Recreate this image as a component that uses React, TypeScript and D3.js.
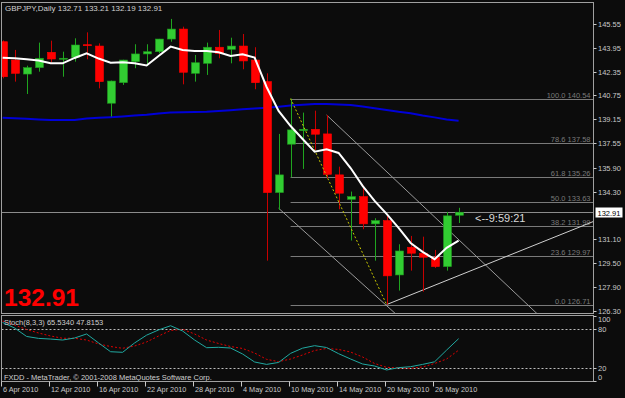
import React from "react";
import * as d3 from "d3";

// ---------- data ----------
const dates = [
  "6 Apr 2010","7 Apr 2010","8 Apr 2010","9 Apr 2010",
  "12 Apr 2010","13 Apr 2010","14 Apr 2010","15 Apr 2010","16 Apr 2010",
  "19 Apr 2010","20 Apr 2010","21 Apr 2010","22 Apr 2010","23 Apr 2010",
  "26 Apr 2010","27 Apr 2010","28 Apr 2010","29 Apr 2010","30 Apr 2010",
  "3 May 2010","4 May 2010","5 May 2010","6 May 2010","7 May 2010",
  "10 May 2010","11 May 2010","12 May 2010","13 May 2010","14 May 2010",
  "17 May 2010","18 May 2010","19 May 2010","20 May 2010","21 May 2010",
  "24 May 2010","25 May 2010","26 May 2010","27 May 2010","28 May 2010",
];
const opens = [144.36,143.13,142.19,142.62,143.65,143.22,143.31,144.16,144.07,140.23,141.61,143.02,143.54,143.69,144.54,145.21,142.24,142.91,143.99,143.85,144.07,143.13,141.68,134.23,137.48,138.39,138.48,138.17,135.42,133.78,133.96,132.13,132.35,128.70,130.56,130.16,129.89,129.26,132.71];
const highs = [144.45,143.81,142.75,144.30,144.43,143.69,144.59,144.99,144.25,141.75,143.15,144.19,144.19,144.55,145.89,145.37,143.47,144.30,145.15,144.63,144.88,143.99,142.24,138.17,140.54,139.60,139.73,139.44,135.97,134.30,134.70,132.51,132.73,130.76,131.32,131.27,130.38,132.93,133.21];
const lows = [141.90,141.68,140.85,142.35,142.95,142.01,143.02,143.18,141.23,139.33,141.46,142.58,142.73,143.58,144.36,141.50,141.68,142.13,143.25,142.91,142.51,141.17,129.66,133.07,135.26,135.82,137.09,135.19,133.11,131.01,131.77,129.66,126.71,127.65,128.99,127.58,129.17,128.99,132.19];
const closes = [142.01,142.24,142.62,143.25,143.20,143.25,144.14,144.12,141.68,141.72,143.13,143.54,143.69,144.54,145.21,142.31,142.95,143.99,143.58,144.07,143.07,141.61,134.23,135.42,138.44,138.48,138.15,135.46,134.19,133.96,132.13,132.35,128.64,130.31,130.16,129.89,129.26,132.67,132.91];
const maFast = [143.29,143.25,143.18,143.10,142.91,142.91,143.27,143.58,143.23,142.95,142.98,142.91,142.76,143.40,144.03,143.81,143.74,143.74,143.65,143.40,143.52,143.29,141.32,139.71,138.70,137.83,136.98,137.14,136.89,135.88,134.68,133.67,132.80,131.86,130.85,130.25,129.76,130.52,131.01];
const maSlow = [139.26,139.22,139.18,139.14,139.11,139.11,139.11,139.21,139.25,139.29,139.34,139.40,139.46,139.54,139.61,139.63,139.64,139.66,139.71,139.76,139.82,139.88,139.93,140.00,140.07,140.13,140.18,140.18,140.15,140.11,140.01,139.89,139.78,139.66,139.56,139.41,139.28,139.14,139.06];
const stochMain = [90.5,82,69,66,65,63.5,66.6,72.8,59,45.5,44.6,59,71,79,85.5,77.4,63.5,51.7,52.3,51.2,42,29.7,26,29,43,51,54.8,52,42.5,34.3,26.6,23.5,17.4,21,22.5,26,30,48,65.534];
const stochSignal = [92.8,86.6,79.7,74.3,69.7,66.2,66.2,63.5,57.4,53.5,50.8,54.3,60.5,69.7,78.2,80,72.8,63.5,58.2,53.5,50.5,43.5,33.8,30.2,34.3,40.5,47.4,50.5,49,45,37.4,27.4,21.5,20.5,20,22,27.4,34.3,47.8153];

const priceTicks = [145.55,143.95,142.35,140.75,139.15,137.55,135.90,134.30,131.10,129.50,127.90,126.30];
const stochTicks = [100,80,20,0];
const stochLevels = [80,20];
const dateTickIdx = [0,4,8,12,16,20,24,28,32,36];

const fibHigh = { i: 24, p: 140.54 };
const fibLow = { i: 32, p: 126.71 };
const fibLevels = [0,23.6,38.2,50,61.8,78.6,100];

// trend / channel lines: [bar1, price1, bar2, price2]
const channelUpper = [27, 139.44, 44.5, 126.13];
const channelLower = [23, 133.18, 32.7, 126.13];
const supportLine = [32, 126.71, 49.2, 132.28];

const lastPrice = 132.91;
const titleText = "GBPJPY,Daily  132.71 133.21 132.19 132.91";
const timerText = "<--9:59:21";
const stochTitle = "Stoch(8,3,3) 65.5340 47.8153";
const copyright = "FXDD - MetaTrader, © 2001-2008 MetaQuotes Software Corp.";

// ---------- layout ----------
const W = 625, H = 398;
const L = 1.5, R = 593.5;
const mainTop = 2.5, mainBot = 313.5;
const indTop = 315.5, indBot = 381.5;
const FONT = "'Liberation Sans', Arial, sans-serif";
const BG = "#0c0c0c";
const AXIS = "#c8c8c8";

export default function App() {
  const x = d3.scaleLinear().domain([0, 38]).range([2.6, 458.6]);
  const y = d3.scaleLinear().domain([126.3, 145.55]).range([310.7, 24]);
  const ys = d3.scaleLinear().domain([0, 100]).range([381.3, 316.3]);

  const idx = d3.range(dates.length);
  const lineMain = d3.line<number>().x((i) => x(i)).y((i) => y(maFast[i]));
  const lineSlow = d3.line<number>().x((i) => x(i)).y((i) => y(maSlow[i]));
  const lineSt = d3.line<number>().x((i) => x(i)).y((i) => ys(stochMain[i]));
  const lineSig = d3.line<number>().x((i) => x(i)).y((i) => ys(stochSignal[i]));

  const ray = (seg: number[]) => {
    const [i1, p1, i2, p2] = seg;
    const x1 = x(i1), y1 = y(p1), x2 = x(i2), y2 = y(p2);
    const k = (y2 - y1) / (x2 - x1);
    const xe = 700;
    return { x1, y1, x2: xe, y2: y1 + k * (xe - x1) };
  };
  const lA = ray(channelUpper);
  const lB = ray(channelLower);
  const lC = ray(supportLine);

  const bw = 8;

  return (
    <div style={{ position: "fixed", left: 0, top: 0, width: W, height: H, background: BG }}>
      <svg width={W} height={H} style={{ display: "block" }} fontFamily={FONT}>
        <defs>
          <clipPath id="mainClip">
            <rect x={L + 0.5} y={mainTop + 0.5} width={R - L - 1} height={mainBot - mainTop - 1} />
          </clipPath>
          <clipPath id="indClip">
            <rect x={L + 0.5} y={indTop + 0.5} width={R - L - 1} height={indBot - indTop - 1} />
          </clipPath>
        </defs>
        <rect x={0} y={0} width={W} height={H} fill={BG} />

        {/* main panel */}
        <g clipPath="url(#mainClip)">
          {fibLevels.map((lv) => {
            const p = fibLow.p + ((fibHigh.p - fibLow.p) * lv) / 100;
            const yy = Math.round(y(p)) + 0.5;
            return (
              <g key={lv}>
                <line x1={x(fibHigh.i)} x2={R} y1={yy} y2={yy} stroke="#7a7a7a" strokeWidth={1} />
                <text x={R - 3} y={yy - 2} textAnchor="end" fontSize={7.5} fill="#7a7a7a">
                  {lv.toFixed(1)} {p.toFixed(2)}
                </text>
              </g>
            );
          })}
          <line x1={L} x2={R} y1={Math.round(y(lastPrice)) + 0.5} y2={Math.round(y(lastPrice)) + 0.5} stroke="#8c8c8c" strokeWidth={1} />

          <path d={lineSlow(idx) || ""} fill="none" stroke="#0000d8" strokeWidth={2} />

          <line {...lA} stroke="#9a9a9a" strokeWidth={1} />
          <line {...lB} stroke="#9a9a9a" strokeWidth={1} />
          <line {...lC} stroke="#d0d0d0" strokeWidth={1} />

          {idx.map((i) => {
            const up = closes[i] >= opens[i];
            const cx = Math.round(x(i)) + 0.5;
            const top = y(Math.max(opens[i], closes[i]));
            const bot = y(Math.min(opens[i], closes[i]));
            const h = Math.max(1, bot - top);
            return (
              <g key={i}>
                <line x1={cx} x2={cx} y1={y(highs[i])} y2={y(lows[i])} stroke={up ? "#1fa51f" : "#c80000"} strokeWidth={1} />
                <rect x={cx - bw / 2} y={top} width={bw} height={h} fill={up ? "#32cd32" : "#ff0000"} stroke={up ? "#1f9a1f" : "#ff0000"} strokeWidth={0.6} />
              </g>
            );
          })}

          <line x1={x(fibHigh.i)} y1={y(fibHigh.p)} x2={x(fibLow.i)} y2={y(fibLow.p)} stroke="#c8c800" strokeWidth={1} strokeDasharray="2,2" />

          <path d={lineMain(idx) || ""} fill="none" stroke="#ffffff" strokeWidth={2} />

          <text x={475} y={222} fontSize={11} fill="#d8d8d8">{timerText}</text>

          <text x={4} y={306} fontSize={24.5} fontWeight="bold" fill="#ff0000">{lastPrice.toFixed(2)}</text>

          <text x={5} y={11} fontSize={8} fill="#d0d0d0">{titleText}</text>
        </g>

        {/* indicator panel */}
        <g clipPath="url(#indClip)">
          {stochLevels.map((lv) => (
            <line key={lv} x1={L} x2={R} y1={Math.round(ys(lv)) + 0.5} y2={Math.round(ys(lv)) + 0.5} stroke="#bdbdbd" strokeWidth={1} strokeDasharray="2,2" />
          ))}
          <path d={lineSig(idx) || ""} fill="none" stroke="#e00000" strokeWidth={1} strokeDasharray="2,2" />
          <path d={lineSt(idx) || ""} fill="none" stroke="#20a8a0" strokeWidth={1} />
          <text x={4} y={325} fontSize={7.5} fill="#d0d0d0">{stochTitle}</text>
          <text x={4} y={380} fontSize={7.5} fill="#d0d0d0">{copyright}</text>
        </g>

        {/* frames */}
        <rect x={L} y={mainTop} width={R - L} height={mainBot - mainTop} fill="none" stroke="#a0a0a0" strokeWidth={1} />
        <rect x={L} y={indTop} width={R - L} height={indBot - indTop} fill="none" stroke="#a0a0a0" strokeWidth={1} />

        {/* price axis */}
        {priceTicks.map((t) => {
          const yy = Math.round(y(t)) + 0.5;
          return (
            <g key={t}>
              <line x1={R} x2={R + 3} y1={yy} y2={yy} stroke={AXIS} strokeWidth={1} />
              <text x={598} y={yy + 2.8} fontSize={7.5} fill={AXIS}>{t.toFixed(2)}</text>
            </g>
          );
        })}
        <rect x={596} y={Math.round(y(lastPrice)) - 4} width={26} height={9} fill="#ffffff" stroke="#ffffff" />
        <text x={597.5} y={Math.round(y(lastPrice)) + 3.5} fontSize={7.5} fill="#000000">{lastPrice.toFixed(2)}</text>

        {/* stoch axis */}
        {stochTicks.map((t) => {
          const yy = Math.round(ys(t)) + 0.5;
          return (
            <g key={t}>
              <line x1={R} x2={R + 3} y1={yy} y2={yy} stroke={AXIS} strokeWidth={1} />
              <text x={598} y={yy + 2.8 - (t === 100 ? -3 : t === 0 ? 4 : 0)} fontSize={7.5} fill={AXIS}>{t}</text>
            </g>
          );
        })}

        {/* date axis */}
        {dateTickIdx.map((i) => {
          const xx = Math.round(x(i)) - 1.5;
          return (
            <g key={i}>
              <line x1={xx} x2={xx} y1={indBot} y2={indBot + 5} stroke={AXIS} strokeWidth={1} />
              <text x={xx + 1.5} y={392} fontSize={7.3} fill={AXIS}>{dates[i]}</text>
            </g>
          );
        })}
      </svg>
    </div>
  );
}
